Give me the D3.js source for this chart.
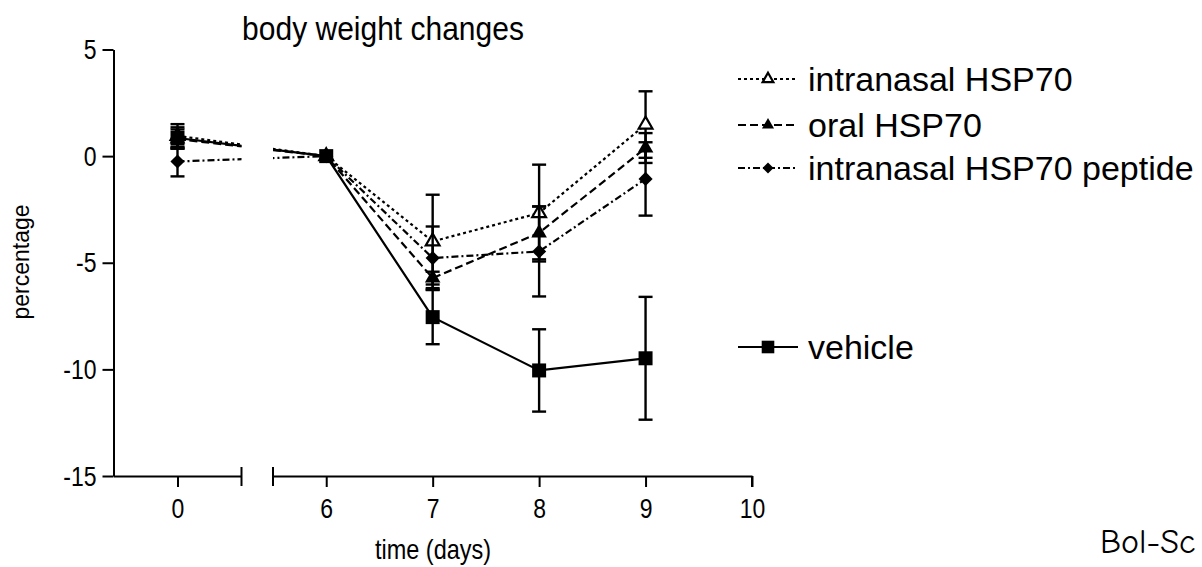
<!DOCTYPE html>
<html>
<head>
<meta charset="utf-8">
<script src="https://cdn.jsdelivr.net/npm/d3@7"></script>
<style>
  body { margin: 0; background: #fff; }
  svg { display: block; }
  text { font-family: "Liberation Sans", Arial, Helvetica, sans-serif; fill: #000; }
</style>
</head>
<body>
<svg id="chart" width="1202" height="567"></svg>
<script>
// ---- data: mean % change in body weight and SEM per day ----
const days = [0, 6, 7, 8, 9];

const intranasalMean = [0.95, 0, -4.0, -2.67, 1.48];
const intranasalSem  = [0.55, 0, 2.19, 2.27, 1.56];

const oralMean = [0.8, 0, -5.72, -3.6, 0.38];
const oralSem  = [0.45, 0, 0.3, 1.24, 0.7];

const peptideMean = [-0.25, 0, -4.78, -4.47, -1.07];
const peptideSem  = [0.7, 0, 1.48, 2.11, 1.72];

const vehicleMean = [0.85, 0, -7.55, -10.05, -9.48];
const vehicleSem  = [0.5, 0, 1.27, 1.93, 2.88];

const seriesNames = ["intranasal HSP70", "oral HSP70", "intranasal HSP70 peptide", "vehicle"];

const yTicks = [5, 0, -5, -10, -15];
const xTicksLeft = [0];
const xTicksRight = [6, 7, 8, 9, 10];

// ---- series styling ----
const series = [
  { name: seriesNames[0], mean: intranasalMean, sem: intranasalSem, dash: "3,3",     marker: "triangleOpen" },
  { name: seriesNames[1], mean: oralMean,       sem: oralSem,       dash: "8,4",     marker: "triangle" },
  { name: seriesNames[2], mean: peptideMean,    sem: peptideSem,    dash: "7,3,2,3", marker: "diamond" },
  { name: seriesNames[3], mean: vehicleMean,    sem: vehicleSem,    dash: null,      marker: "square" }
];

const svg = d3.select("#chart");
const TICK_STRETCH = 1.18; // tick glyphs are drawn a little taller than wide

// ---- scales: a broken x axis made of two linear segments ----
const y = d3.scaleLinear().domain([-15, 5]).range([476, 49.5]);
const xLeft = d3.scaleLinear().domain([-0.6, 0.6]).range([113.5, 241.5]);
const xRight = d3.scaleLinear().domain([5.5, 10]).range([273, 752]);
const xPos = d => (d < 3 ? xLeft(d) : xRight(d));

// clip regions so connecting lines stop at the axis break
const defs = svg.append("defs");
defs.append("clipPath").attr("id", "clipLeft")
  .append("rect").attr("x", 0).attr("y", 0).attr("width", 241.5).attr("height", 567);
defs.append("clipPath").attr("id", "clipRight")
  .append("rect").attr("x", 273).attr("y", 0).attr("width", 929).attr("height", 567);

// ---- axes ----
const yAxis = svg.append("g")
  .attr("transform", "translate(113.5,0)")
  .call(d3.axisLeft(y).tickValues(yTicks).tickSize(11).tickSizeOuter(0).tickPadding(6)
    .tickFormat(d => String(d)));

const xAxisLeft = svg.append("g")
  .attr("transform", "translate(0,476)")
  .call(d3.axisBottom(xLeft).tickValues(xTicksLeft).tickSize(11).tickSizeOuter(0)
    .tickFormat(d => String(d)));

const xAxisRight = svg.append("g")
  .attr("transform", "translate(0,476)")
  .call(d3.axisBottom(xRight).tickValues(xTicksRight).tickSize(11).tickSizeOuter(0)
    .tickFormat(d => String(d)));

[yAxis, xAxisLeft, xAxisRight].forEach(g => {
  g.select(".domain").attr("stroke", "#000").attr("stroke-width", 2);
  g.selectAll(".tick line").attr("stroke", "#000").attr("stroke-width", 2);
  g.selectAll(".tick text")
    .attr("font-size", 23)
    .style("font-family", "'Liberation Sans', Arial, sans-serif");
});
yAxis.selectAll(".tick text")
  .attr("dy", "0.34em")
  .attr("transform", `scale(1,${TICK_STRETCH})`);
[xAxisLeft, xAxisRight].forEach(g => {
  g.selectAll(".tick text")
    .attr("y", 0).attr("dy", 0)
    .attr("transform", `translate(0,42) scale(1,${TICK_STRETCH})`);
});

// break marks at the ends of the two x-axis segments
const breakMarks = [xLeft.range()[1], xRight.range()[0]];
svg.append("g").selectAll("line").data(breakMarks).join("line")
  .attr("x1", d => d).attr("x2", d => d)
  .attr("y1", 467).attr("y2", 486)
  .attr("stroke", "#000").attr("stroke-width", 2);
// closing tick at the far end of the right segment
svg.append("line")
  .attr("x1", xRight(10)).attr("x2", xRight(10))
  .attr("y1", 476).attr("y2", 487)
  .attr("stroke", "#000").attr("stroke-width", 2);

// ---- markers ----
function drawMarker(g, type, cx, cy, scale = 1) {
  const k = scale * scale;
  if (type === "square") {
    g.append("path").attr("d", d3.symbol(d3.symbolSquare, 196 * k)())
      .attr("transform", `translate(${cx},${cy})`).attr("fill", "#000");
  } else if (type === "diamond") {
    g.append("path").attr("d", d3.symbol(d3.symbolSquare, 100 * k)())
      .attr("transform", `translate(${cx},${cy}) rotate(45)`).attr("fill", "#000");
  } else if (type === "triangle") {
    g.append("path").attr("d", d3.symbol(d3.symbolTriangle, 105 * k)())
      .attr("transform", `translate(${cx},${cy})`).attr("fill", "#000");
  } else if (type === "triangleOpen") {
    g.append("path").attr("d", d3.symbol(d3.symbolTriangle, 82 * k)())
      .attr("transform", `translate(${cx},${cy})`)
      .attr("fill", "#fff").attr("stroke", "#000").attr("stroke-width", 2.2);
  }
}

// ---- series: lines, error bars, markers ----
const line = d3.line().x(d => xPos(d.day)).y(d => y(d.v));

series.forEach(s => {
  const pts = days.map((d, i) => ({ day: d, v: s.mean[i], e: s.sem[i] }));
  const g = svg.append("g");

  ["clipLeft", "clipRight"].forEach(id => {
    g.append("path")
      .attr("d", line(pts))
      .attr("clip-path", `url(#${id})`)
      .attr("fill", "none")
      .attr("stroke", "#000")
      .attr("stroke-width", 2.2)
      .attr("stroke-dasharray", s.dash);
  });

  // error bars (mean ± SEM) with caps
  const eb = g.append("g").attr("stroke", "#000").attr("stroke-width", 2.4);
  pts.filter(p => p.e > 0).forEach(p => {
    const cx = xPos(p.day);
    eb.append("line").attr("x1", cx).attr("x2", cx).attr("y1", y(p.v + p.e)).attr("y2", y(p.v - p.e));
    [p.v + p.e, p.v - p.e].forEach(v => {
      eb.append("line").attr("x1", cx - 7).attr("x2", cx + 7).attr("y1", y(v)).attr("y2", y(v));
    });
  });

  pts.forEach(p => drawMarker(g, s.marker, xPos(p.day), y(p.v)));
});

// ---- legend ----
const legendRows = [79, 125, 168, 347];
const legend = svg.append("g");
series.forEach((s, i) => {
  const ly = legendRows[i];
  legend.append("line")
    .attr("x1", 738).attr("x2", 798).attr("y1", ly).attr("y2", ly)
    .attr("stroke", "#000").attr("stroke-width", 2)
    .attr("stroke-dasharray", s.dash);
  drawMarker(legend, s.marker, 768, ly, s.marker === "square" ? 0.9 : 0.78);
  legend.append("text")
    .attr("x", 808).attr("y", ly).attr("dy", "0.36em")
    .attr("font-size", 34)
    .text(s.name);
});

// ---- titles ----
svg.append("text")
  .attr("text-anchor", "middle")
  .attr("transform", "translate(383,40) scale(1,1.12)")
  .attr("font-size", 30)
  .text("body weight changes");

svg.append("text")
  .attr("transform", "translate(29,262) rotate(-90) scale(1,1.08)")
  .attr("text-anchor", "middle")
  .attr("font-size", 23)
  .text("percentage");

svg.append("text")
  .attr("text-anchor", "middle")
  .attr("transform", "translate(433,559) scale(1,1.15)")
  .attr("font-size", 23.5)
  .text("time (days)");

svg.append("text")
  .attr("x", 1100).attr("y", 553)
  .attr("font-size", 34)
  .style("font-family", "'Comic Sans MS', 'Comic Neue', cursive")
  .text("Bol-Sc");
</script>
</body>
</html>
